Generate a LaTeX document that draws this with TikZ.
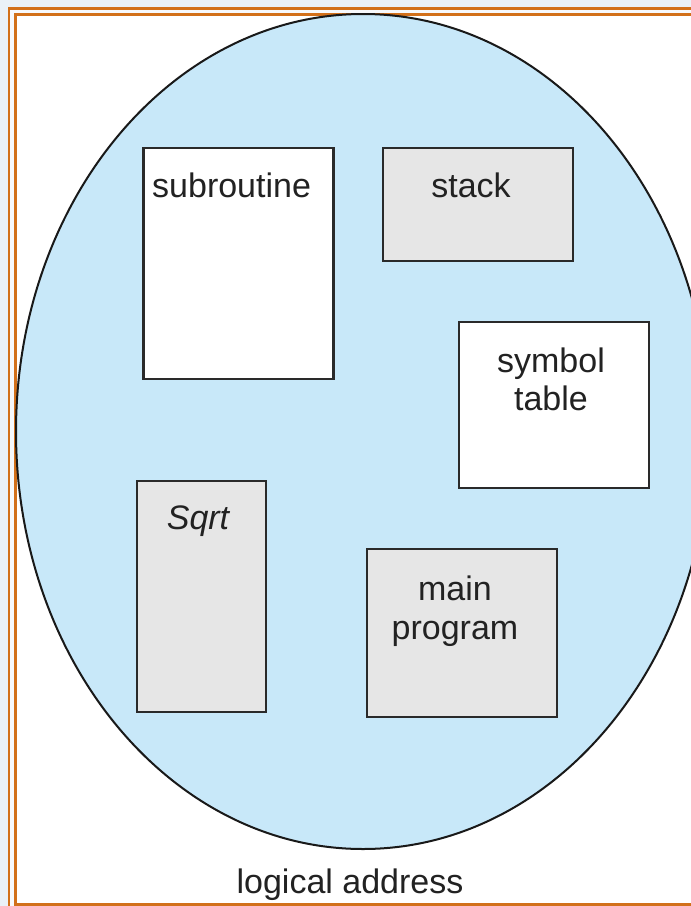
\documentclass[tikz,border=0pt]{standalone}
\usepackage{fontspec}
\setmainfont{Liberation Sans}
\definecolor{pagebg}{HTML}{EAF1F8}
\definecolor{frameor}{HTML}{D2701A}
\definecolor{ellfill}{HTML}{C8E8F9}
\definecolor{boxgray}{HTML}{E6E6E6}
\definecolor{boxline}{HTML}{2A2A2A}
\definecolor{txt}{HTML}{222222}
\begin{document}
\begin{tikzpicture}[x=1pt,y=-1pt,
  seg/.style={draw=boxline,line width=2.3pt},
  lbl/.style={font=\fontsize{34}{38}\selectfont,text=txt,inner sep=0pt,anchor=base}]
\useasboundingbox (0,0) rectangle (691,906);
\clip (0,0) rectangle (691,906);
\fill[pagebg] (0,0) rectangle (691,906);
\draw[frameor,line width=2.8pt,fill=white!60!pagebg] (9,8.5) rectangle (720,930);
\draw[frameor,line width=3pt,fill=white] (15,14.5) rectangle (710,904);
\draw[fill=ellfill,draw=black!90,line width=2pt] (363,431.5) ellipse [x radius=347,y radius=417.5];
% boxes
\node[seg,fill=white,minimum width=190pt,minimum height=231pt,inner sep=0pt] (sub) at (238.5,263.5) {};
\node[lbl,anchor=base west] (subl) at (152,197) {subroutine};
\node[seg,fill=boxgray,minimum width=190pt,minimum height=113pt,inner sep=0pt] (stk) at (478,204.5) {};
\node[lbl] (stkl) at (471,197) {stack};
\node[seg,fill=white,minimum width=190pt,minimum height=166pt,inner sep=0pt] (sym) at (554,405) {};
\node[lbl] (syml1) at (551,372) {symbol};
\node[lbl] (syml2) at (551,410) {table};
\node[seg,fill=boxgray,minimum width=129pt,minimum height=231pt,inner sep=0pt] (sqr) at (201.5,596.5) {};
\node[lbl] (sqrl) at (198,529) {\itshape Sqrt};
\node[seg,fill=boxgray,minimum width=190pt,minimum height=168pt,inner sep=0pt] (mp) at (462,633) {};
\node[lbl] (mpl1) at (455,600) {main};
\node[lbl] (mpl2) at (455,639) {program};
\node[lbl] (la) at (350,893) {logical address};
\end{tikzpicture}
\end{document}
